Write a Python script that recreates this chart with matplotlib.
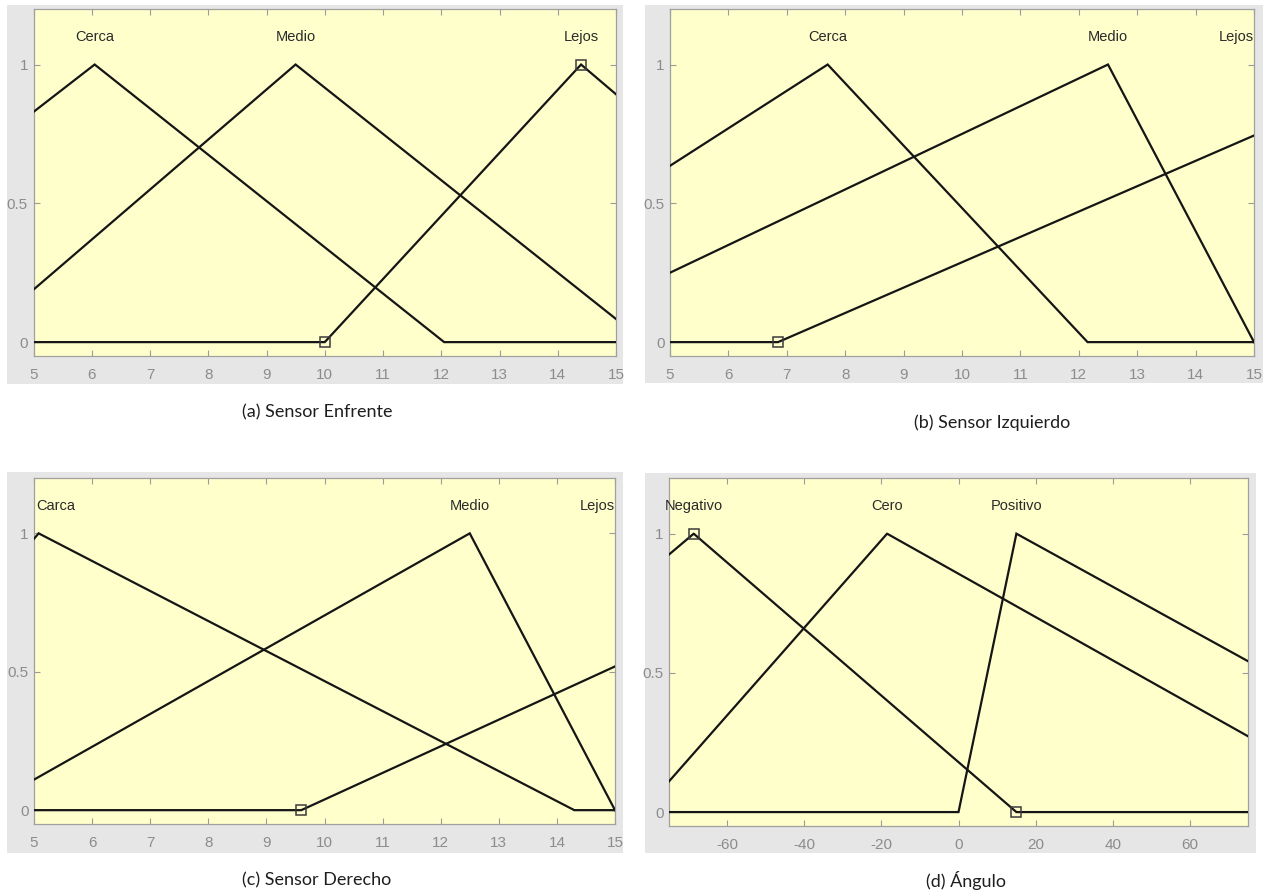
import numpy as np
import matplotlib
matplotlib.use("Agg")
import matplotlib.pyplot as plt
from matplotlib import font_manager
from matplotlib.patches import Rectangle

# ---------------------------------------------------------------------------
# Fuzzy input/output variables: triangular membership functions [a, b, c]
# ---------------------------------------------------------------------------
enfrente_range = [5, 15]
enfrente_names = ["Cerca", "Medio", "Lejos"]
enfrente_params = [[-0.1, 6.05, 12.05], [3.95, 9.5, 15.5], [10.0, 14.4, 20.0]]
enfrente_selected = 2

izquierdo_range = [5, 15]
izquierdo_names = ["Cerca", "Medio", "Lejos"]
izquierdo_params = [[0.3, 7.7, 12.15], [2.5, 12.5, 15.0], [6.85, 17.8, 28.0]]
izquierdo_selected = 2

derecho_range = [5, 15]
derecho_names = ["Carca", "Medio", "Lejos"]
derecho_params = [[1.0, 5.08, 14.3], [4.07, 12.5, 15.0], [9.6, 20.0, 30.0]]
derecho_selected = 2

angulo_range = [-75, 75]
angulo_names = ["Negativo", "Cero", "Positivo"]
angulo_params = [[-154.0, -68.6, 15.0], [-82.0, -18.5, 110.0], [0.0, 15.0, 146.0]]
angulo_selected = 0

sensor_ticks = [5, 6, 7, 8, 9, 10, 11, 12, 13, 14, 15]
angulo_ticks = [-60, -40, -20, 0, 20, 40, 60]
y_ticks = [0, 0.5, 1]
y_tick_labels = ["0", "0.5", "1"]

captions = ["(a) Sensor Enfrente", "(b) Sensor Izquierdo",
            "(c) Sensor Derecho", "(d) Ángulo"]

# ---------------------------------------------------------------------------
W, H = 1263, 894
DPI = 100

installed = {f.name for f in font_manager.fontManager.ttflist}
narrow = "Liberation Sans Narrow" if "Liberation Sans Narrow" in installed else "Liberation Sans"
caption_font = "Lato" if "Lato" in installed else "DejaVu Sans"

FIG_GRAY = "#e6e6e6"
AX_YELLOW = "#ffffcc"
TICK_GRAY = "#8c8c8c"


def trimf(x, p):
    a, b, c = p
    left = np.where(b > a, (x - a) / (b - a if b != a else 1), 1.0)
    right = np.where(c > b, (c - x) / (c - b if c != b else 1), 1.0)
    return np.clip(np.minimum(left, right), 0, 1)


def px_rect(x0, y0, x1, y1):
    """Pixel box (top-left origin) -> figure fraction [l, b, w, h]."""
    return [x0 / W, 1 - y1 / H, (x1 - x0) / W, (y1 - y0) / H]


fig = plt.figure(figsize=(W / DPI, H / DPI), dpi=DPI, facecolor="white")

panels = [
    dict(rng=enfrente_range, names=enfrente_names, params=enfrente_params,
         sel=enfrente_selected, ticks=sensor_ticks,
         gray=(7, 5, 623, 384), ax=(33.5, 9, 616, 356), cap=(317, 412)),
    dict(rng=izquierdo_range, names=izquierdo_names, params=izquierdo_params,
         sel=izquierdo_selected, ticks=sensor_ticks,
         gray=(645, 5, 1263, 383), ax=(670, 9, 1254, 356), cap=(992, 423)),
    dict(rng=derecho_range, names=derecho_names, params=derecho_params,
         sel=derecho_selected, ticks=sensor_ticks,
         gray=(7, 472, 623, 853), ax=(34, 478, 615, 824), cap=(317, 880)),
    dict(rng=angulo_range, names=angulo_names, params=angulo_params,
         sel=angulo_selected, ticks=angulo_ticks,
         gray=(645, 473, 1256, 853), ax=(669, 478, 1248, 826), cap=(966, 880)),
]

for panel, caption in zip(panels, captions):
    gx0, gy0, gx1, gy1 = panel["gray"]
    fig.patches.append(Rectangle((gx0 / W, 1 - gy1 / H), (gx1 - gx0) / W,
                                 (gy1 - gy0) / H, transform=fig.transFigure,
                                 facecolor=FIG_GRAY, edgecolor="none", zorder=-10))

    ax = fig.add_axes(px_rect(*panel["ax"]))
    ax.set_zorder(1)
    ax.set_facecolor(AX_YELLOW)
    lo, hi = panel["rng"]
    x = np.linspace(lo, hi, 2001)

    for name, p in zip(panel["names"], panel["params"]):
        y = trimf(x, p)
        ax.plot(x, y, color="#151515", lw=1.6, solid_joinstyle="miter", zorder=3)

        # label at the top of the curve inside the visible range
        peak = float(np.clip(p[1], lo, hi))
        span = hi - lo
        if peak - lo < 0.03 * span:
            tx, ha = lo + 0.004 * span, "left"
        elif hi - peak < 0.03 * span:
            tx, ha = hi, "right"
        else:
            tx, ha = peak, "center"
        ax.text(tx, 1.1, name, ha=ha, va="center", fontsize=10.5,
                family=narrow, color="#2a2a2a", zorder=4)

    # vertex handles of the selected membership function
    sp = panel["params"][panel["sel"]]
    vx = [v for v in sp if lo <= v <= hi]
    vy = [float(trimf(np.array([v]), sp)[0]) for v in vx]
    ax.plot(vx, vy, linestyle="none", marker="s", ms=7, mfc="none",
            mec="#3a3a3a", mew=1.1, zorder=5, clip_on=False)

    ax.set_xlim(lo, hi)
    ax.set_ylim(-0.05, 1.2)
    ax.set_xticks(panel["ticks"])
    ax.set_xticklabels([str(t) for t in panel["ticks"]])
    ax.set_yticks(y_ticks)
    ax.set_yticklabels(y_tick_labels)
    ax.tick_params(direction="in", top=True, right=True, length=4, width=0.8,
                   color="#9a9a9a", labelcolor=TICK_GRAY, labelsize=11)
    ax.tick_params(axis="x", pad=8.5)
    ax.tick_params(axis="y", pad=4)
    for lab in ax.get_xticklabels() + ax.get_yticklabels():
        lab.set_family(narrow)
    for s in ax.spines.values():
        s.set_color("#a0a0a0")
        s.set_linewidth(0.9)

    cx, cy = panel["cap"]
    fig.text(cx / W, 1 - cy / H, caption, ha="center", va="center",
             fontsize=13, family=caption_font, color="#1e1e1e")

fig.savefig("out.png", dpi=DPI, facecolor="white")
